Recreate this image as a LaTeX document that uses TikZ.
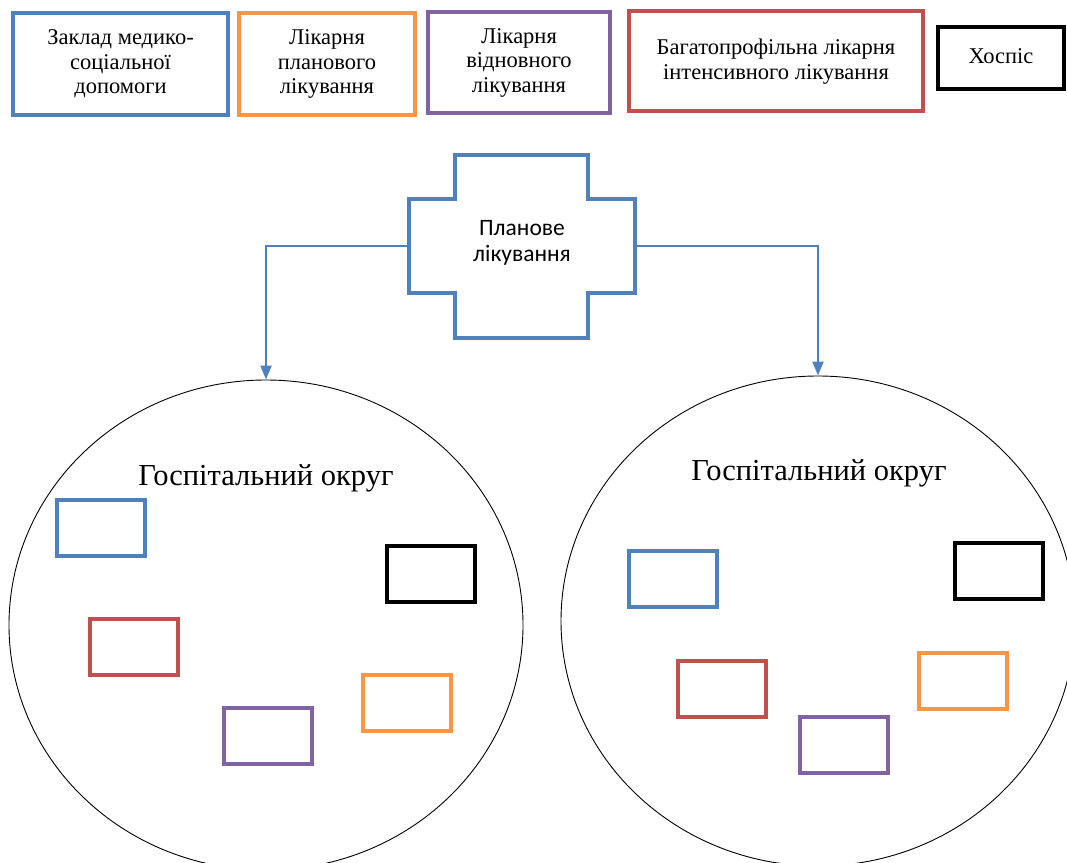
\documentclass[tikz,border=0pt]{standalone}
\usepackage{fontspec}
\setmainfont{Liberation Serif}
\newfontfamily\calibri{Carlito}
\usetikzlibrary{arrows.meta, shapes.geometric}
\definecolor{socialblue}{HTML}{4F81BD}
\definecolor{planorange}{HTML}{F79646}
\definecolor{restpurple}{HTML}{8064A2}
\definecolor{intensred}{HTML}{C0504D}
\tikzstyle{block} = [rectangle, line width=4pt, align=center, inner sep=0pt, font=\fontsize{22.5}{24.5}\selectfont]
\tikzstyle{key} = [draw, block, text depth=4pt]
\tikzstyle{unit} = [draw, rectangle, line width=4pt, minimum width=88pt, minimum height=56pt]
\tikzstyle{district} = [draw, ellipse, line width=0.9pt, minimum width=514pt, minimum height=490pt, inner sep=0pt]
\tikzstyle{title} = [font=\fontsize{30.5}{34}\selectfont]
\tikzstyle{route} = [-{Triangle[width=11pt, length=14pt]}, line width=2pt, draw=socialblue]

\begin{document}
\begin{tikzpicture}[x=1pt, y=-1pt]
    \useasboundingbox (0,0) rectangle (1067,862);

    % Legend.
    \node (social) [key, draw=socialblue, minimum width=215pt, minimum height=102pt] at (120.5,64) {Заклад медико-\\соціальної\\допомоги};
    \node (planned) [key, draw=planorange, minimum width=176pt, minimum height=102pt] at (327,64) {Лікарня\\планового\\лікування};
    \node (rehab) [key, draw=restpurple, minimum width=182pt, minimum height=101pt] at (519,62.5) {Лікарня\\відновного\\лікування};
    \node (intensive) [key, draw=intensred, minimum width=294pt, minimum height=100pt] at (776,61) {Багатопрофільна лікарня\\інтенсивного лікування};
    \node (hospice) [key, draw=black, minimum width=126pt, minimum height=62pt] at (1001,58) {Хоспіс};

    % Planned treatment.
    \node (plan) [block, minimum width=226pt, minimum height=94pt, font=\calibri\fontsize{23.5}{26}\selectfont] at (522,243) {Планове\\лікування};
    \draw [socialblue, line width=4pt] (455,155) -- (588,155) -- (588,199) -- (635,199) -- (635,293)
        -- (588,293) -- (588,338) -- (455,338) -- (455,293) -- (409,293) -- (409,199) -- (455,199) -- cycle;

    % Hospital districts.
    \node (distL) [district] at (266,625) {};
    \node (distR) [district] at (818,621) {};
    \node (nameL) [title] at (266,478) {Госпітальний округ};
    \node (nameR) [title] at (819,473) {Госпітальний округ};

    \draw [route] (plan.west |- 0,246) -| (distL.north);
    \draw [route] (plan.east |- 0,246) -| (distR.north);

    % Facilities, left district.
    \node (socialL) [unit, draw=socialblue] at (101,528) {};
    \node (hospiceL) [unit, draw=black] at (431,574) {};
    \node (intensiveL) [unit, draw=intensred] at (134,647) {};
    \node (plannedL) [unit, draw=planorange] at (407,703) {};
    \node (rehabL) [unit, draw=restpurple] at (267.5,735.5) {};

    % Facilities, right district.
    \node (socialR) [unit, draw=socialblue] at (672.5,579) {};
    \node (hospiceR) [unit, draw=black] at (999,571) {};
    \node (intensiveR) [unit, draw=intensred] at (722,689) {};
    \node (plannedR) [unit, draw=planorange] at (963,681) {};
    \node (rehabR) [unit, draw=restpurple] at (844,745) {};
\end{tikzpicture}
\end{document}
